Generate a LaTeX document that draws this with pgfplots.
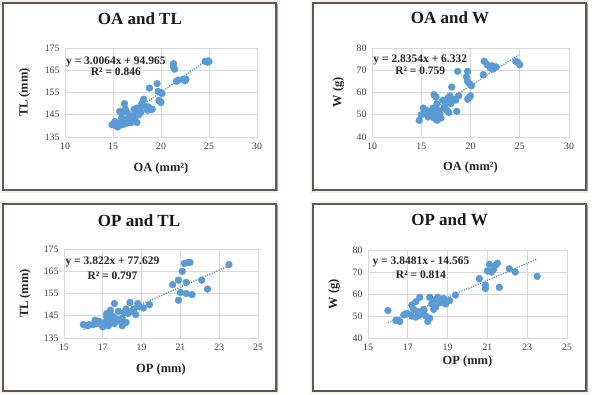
\documentclass[border=0pt]{standalone}
\usepackage{pgfplots}
\pgfplotsset{compat=1.18}
\usepackage{fontspec}
\setmainfont{Liberation Serif}
\definecolor{mk}{HTML}{5B9BD5}
\definecolor{gridc}{HTML}{D9D9D9}
\definecolor{cream}{HTML}{F6F2E9}
\definecolor{tickc}{HTML}{404040}
\definecolor{bord}{HTML}{5A5A5A}
\tikzset{eqs/.style={font=\bfseries\fontsize{11.5}{12}\selectfont, text=black!85}}
\pgfplotsset{
  myax/.style={
    scale only axis,
    grid=major,
    grid style={gridc, line width=0.8pt},
    axis line style={gridc, line width=0.8pt},
    major tick length=0pt,
    tick label style={font=\fontsize{9.8}{10}\selectfont, text=tickc},
    /pgf/number format/assume math mode=true,
    xticklabel style={yshift=-2pt},
    yticklabel style={xshift=-2pt},
    label style={font=\bfseries\fontsize{12.5}{13}\selectfont, text=black!85},
    title style={font=\bfseries\fontsize{17}{18}\selectfont, text=black!90, anchor=center},
    clip=false,
  },
  pts/.style={only marks, mark=*, mark size=3.4pt, mark options={fill=mk, draw=mk}},
  trend/.style={mk, line width=1.3pt, dash pattern=on 1.2pt off 1.3pt},
}
\begin{document}
\begin{tikzpicture}
\useasboundingbox (0,0) rectangle (592pt,-395pt);
\fill[white] (0,0) rectangle (592pt,-395pt);
% panel frames
\foreach \xa/\ya/\xb/\yb in {3/3/276/190, 313/3/586/190, 3/204/276/391, 313/204/586/391}{
  \fill[cream] (\xa pt-3pt,-\ya pt+3pt) rectangle (\xb pt+3pt,-\yb pt-3pt);
  \fill[black!35] (\xa pt+1.5pt,-\ya pt-1.5pt) rectangle (\xb pt+1.5pt,-\yb pt-1.5pt);
  \filldraw[fill=white, draw=bord, line width=1.5pt] (\xa pt,-\ya pt) rectangle (\xb pt,-\yb pt);
}
% ---------- Panel 1: OA and TL ----------
\begin{axis}[myax, at={(65pt,-137pt)}, anchor=south west, width=192pt, height=89pt,
  xmin=10, xmax=30, ymin=135, ymax=175, xtick={10,15,20,25,30}, ytick={135,145,155,165,175},
  title={OA and TL}, title style={at={(axis description cs:0.39,1.26)}},
  xlabel={OA (mm²)}, xlabel style={at={(axis description cs:0.5,-0.35)}, anchor=center},
  ylabel={TL (mm)}, ylabel style={at={(axis description cs:-0.21,0.5)}, anchor=center}]
\addplot[pts] table {
24.6 169
24.9 169.2
25.0 168.8
24.8 168.6
21.3 168
21.4 165.5
21.3 166.5
21.6 160
21.8 160.5
22.3 161
22.6 161
22.5 160.3
19.6 159
18.8 157
19.7 155.5
20.0 155
20.1 154.5
19.9 151
20.0 150.5
19.8 151.5
18.2 152
18.0 150
18.5 148
18.9 147.5
19.1 147.5
18.6 147
18.7 148.5
17.5 148
17.4 146
17.6 147
17.8 148
17.9 146
17.3 144
17.5 141.5
17.7 145
16.2 150
16.3 147.5
15.7 146.5
15.9 145.5
16.5 146
16.4 143
16.1 142
16.6 141.5
16.8 143
17.0 143
16.9 141.5
14.9 140.5
15.1 141
15.3 140
15.5 139.5
15.6 141
15.2 142
15.8 141.5
15.4 140.5
16.0 140.5
16.3 141
15.9 143.5
17.2 147.5
18.3 149
17.0 144.5
};
\addplot[trend] coordinates {(14.9,139.76) (24.9,169.83)};
\node[eqs] at (axis cs:15.3,168.7) {y = 3.0064x + 94.965};
\node[eqs] at (axis cs:15.3,164.2) {R² = 0.846};
\end{axis}
% ---------- Panel 2: OA and W ----------
\begin{axis}[myax, at={(372pt,-137pt)}, anchor=south west, width=197pt, height=89pt,
  xmin=10, xmax=30, ymin=40, ymax=80, xtick={10,15,20,25,30}, ytick={40,50,60,70,80},
  title={OA and W}, title style={at={(axis description cs:0.396,1.27)}},
  xlabel={OA (mm²)}, xlabel style={at={(axis description cs:0.5,-0.34)}, anchor=center},
  ylabel={W (g)}, ylabel style={at={(axis description cs:-0.17,0.5)}, anchor=center}]
\addplot[pts] table {
24.6 74
24.8 73.5
25.0 72.5
21.4 74
21.7 72.5
22.0 71
22.3 70.5
22.6 71.5
22.2 72
21.3 68
18.7 69.5
19.7 69.5
19.6 67
19.7 65
19.9 64
20.1 63
20.0 58.5
19.7 57
19.9 58
18.1 62.5
17.9 58.5
18.3 57
18.8 58.5
18.5 56.5
17.5 56
17.4 54
17.6 52
17.8 51
18.6 51.5
17.2 56.5
16.3 59
16.5 58
16.6 55
16.2 53
15.2 53
15.5 52
15.3 50.5
15.8 51
16.0 50
16.4 50
16.8 49.5
16.3 48.5
16.6 47.5
14.8 47.5
16.9 50.5
17.0 48.5
15.0 50
16.1 52
17.3 53
18.0 55
15.7 49
16.7 52
17.7 57.5
16.4 51
};
\addplot[trend] coordinates {(14.8,48.29) (24.9,76.93)};
\node[eqs] at (axis cs:14.9,74.6) {y = 2.8354x + 6.332};
\node[eqs] at (axis cs:14.9,69.7) {R² = 0.759};
\end{axis}
% ---------- Panel 3: OP and TL ----------
\begin{axis}[myax, at={(64pt,-338pt)}, anchor=south west, width=194pt, height=89pt,
  xmin=15, xmax=25, ymin=135, ymax=175, xtick={15,17,19,21,23,25}, ytick={135,145,155,165,175},
  title={OP and TL}, title style={at={(axis description cs:0.387,1.25)}},
  xlabel={OP (mm)}, xlabel style={at={(axis description cs:0.5,-0.35)}, anchor=center},
  ylabel={TL (mm)}, ylabel style={at={(axis description cs:-0.20,0.5)}, anchor=center}]
\addplot[pts] table {
23.5 168
21.2 168.5
21.4 169
21.5 169
21.1 165
20.9 161
21.3 160
20.6 159
22.1 161
22.4 157
21.0 155.5
21.3 155
21.6 154.5
20.9 152
19.4 150
19.1 148.5
18.8 150.5
18.4 151
17.6 150.5
18.6 148
18.2 148
18.1 146.5
18.7 145.5
18.3 146
17.8 147
17.4 147.5
17.2 146
17.5 145
17.3 143
17.8 143
18.0 144
17.6 141.5
18.2 142
17.1 142
17.0 140
17.3 140.5
18.0 140.5
17.9 142.5
17.5 144
16.0 141
16.3 141
16.5 141
16.7 141.5
16.8 142.5
16.6 143
16.2 140.5
17.2 144.5
18.5 147
17.7 143.5
18.9 149
};
\addplot[trend] coordinates {(16.0,138.78) (23.5,167.45)};
\node[eqs] at (axis cs:17.5,169.0) {y = 3.822x + 77.629};
\node[eqs] at (axis cs:17.5,163.0) {R² = 0.797};
\end{axis}
% ---------- Panel 4: OP and W ----------
\begin{axis}[myax, at={(368pt,-338pt)}, anchor=south west, width=199pt, height=88pt,
  xmin=15, xmax=25, ymin=40, ymax=80, xtick={15,17,19,21,23,25}, ytick={40,50,60,70,80},
  title={OP and W}, title style={at={(axis description cs:0.41,1.28)}},
  xlabel={OP (mm)}, xlabel style={at={(axis description cs:0.5,-0.27)}, anchor=center},
  ylabel={W (g)}, ylabel style={at={(axis description cs:-0.17,0.5)}, anchor=center}]
\addplot[pts] table {
16.0 52.5
16.4 48
16.6 47.5
16.5 48
23.5 68
21.1 73.5
21.4 73
21.5 74
21.3 71
21.2 70
21.0 70.5
22.1 71.5
22.4 70
20.6 67
20.9 64
20.9 62.5
21.6 63
19.4 59.5
19.1 57
18.8 58
18.5 58.5
18.1 58.5
18.3 57
18.2 55.5
18.6 56
18.9 55.5
18.4 54
18.3 53
17.6 58.5
17.4 56.5
17.2 55
17.3 53
17.0 51
17.5 52
17.8 52.5
17.7 51
17.2 50
17.4 49.5
16.8 50.5
17.9 50
18.0 47.5
18.1 49
17.6 50.5
16.9 51
17.8 53
17.5 50.5
18.7 56.5
};
\addplot[trend] coordinates {(16.0,47.0) (23.5,75.87)};
\node[eqs] at (axis cs:17.66,74.7) {y = 3.8481x - 14.565};
\node[eqs] at (axis cs:17.66,68.6) {R² = 0.814};
\end{axis}
\end{tikzpicture}
\end{document}
